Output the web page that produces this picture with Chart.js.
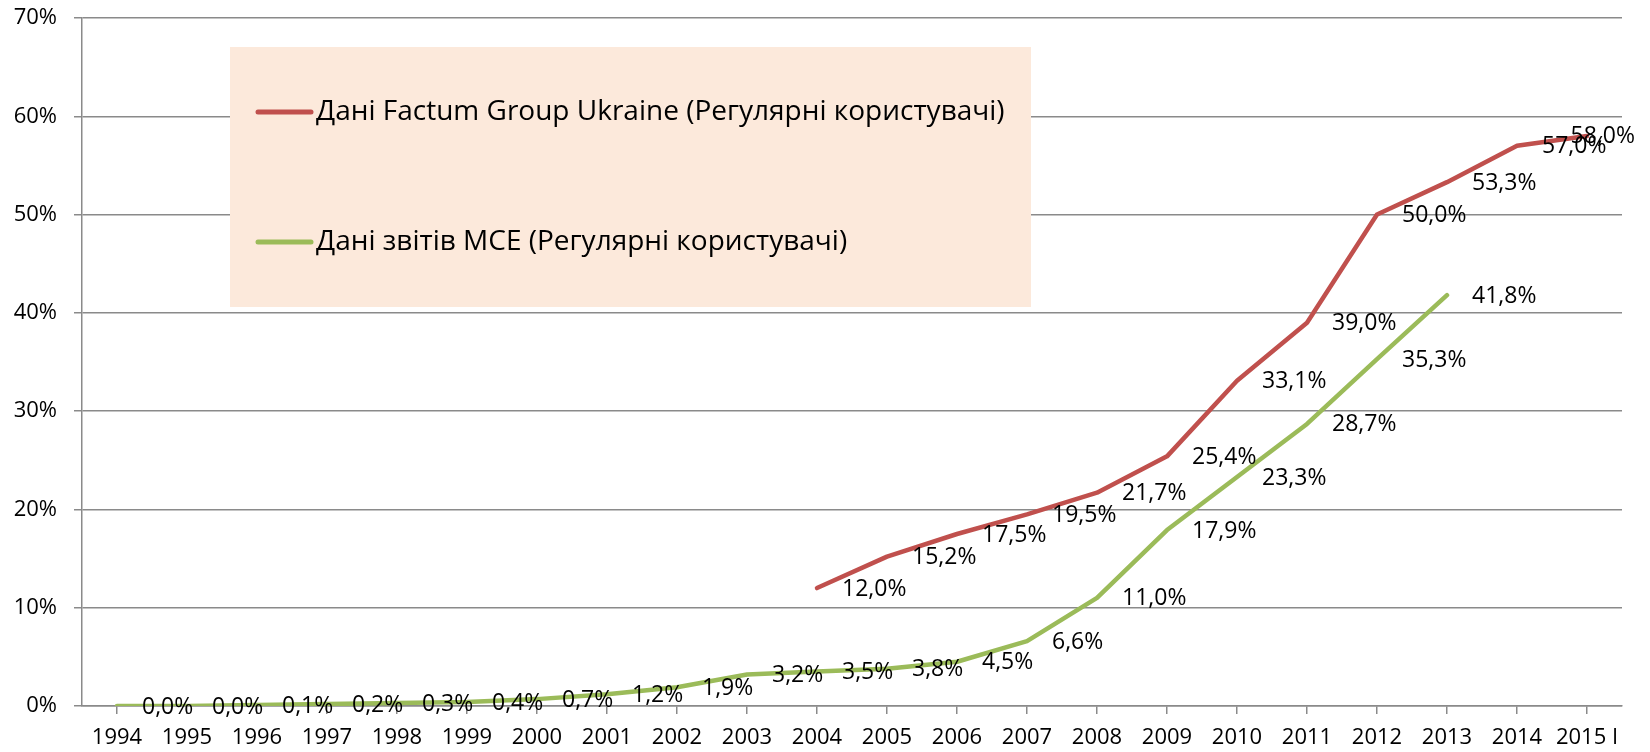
<!DOCTYPE html>
<html>
<head>
<meta charset="utf-8">
<script src="https://cdn.jsdelivr.net/npm/chart.js@4.4.0/dist/chart.umd.min.js"></script>
<style>
  html, body { margin: 0; padding: 0; background: #fff; }
  #chart { display: block; }
</style>
</head>
<body>
<canvas id="chart" width="1650" height="752"></canvas>
<script>
// Categories (years)
const years = ['1994', '1995', '1996', '1997', '1998', '1999', '2000', '2001', '2002', '2003',
    '2004', '2005', '2006', '2007', '2008', '2009', '2010', '2011', '2012', '2013', '2014', '2015 I'];

// Series values, %
const factumValues = [null, null, null, null, null, null, null, null, null, null,
    12.0, 15.2, 17.5, 19.5, 21.7, 25.4, 33.1, 39.0, 50.0, 53.3, 57.0, 58.0];
const mceValues = [0.0, 0.0, 0.1, 0.2, 0.3, 0.4, 0.7, 1.2, 1.9, 3.2,
    3.5, 3.8, 4.5, 6.6, 11.0, 17.9, 23.3, 28.7, 35.3, 41.8, null, null];

const seriesNames = [
    'Дані Factum Group Ukraine (Регулярні користувачі)',
    'Дані звітів MCE (Регулярні користувачі)'
];

// Y axis ticks
const yMin = 0;
const yMax = 70;
const yStep = 10;

const FONT = '"Open Sans", "Noto Sans", sans-serif';
const GRID = '#8a8a8a';

// Value labels to the right of each point
const valueLabels = {
    id: 'valueLabels',
    afterDatasetsDraw(chart) {
        const ctx = chart.ctx;
        ctx.save();
        ctx.font = '23px ' + FONT;
        ctx.fillStyle = '#000';
        ctx.textBaseline = 'middle';
        ctx.textAlign = 'left';
        chart.data.datasets.forEach((ds, i) => {
            const meta = chart.getDatasetMeta(i);
            meta.data.forEach((pt, j) => {
                const v = ds.data[j];
                if (v === null) return;
                const text = v.toFixed(1).replace('.', ',') + '%';
                const w = ctx.measureText(text).width;
                let x = pt.x + 25;
                if (x + w > chart.width - 15) x = chart.width - 15 - w;
                ctx.fillText(text, x, pt.y + 1);
            });
        });
        ctx.restore();
    }
};

// Legend box inside the plot area
const boxLegend = {
    id: 'boxLegend',
    beforeDatasetsDraw(chart) {
        const ctx = chart.ctx;
        const a = chart.chartArea;
        const left = a.left + 148, top = a.top + 29;
        ctx.save();
        ctx.fillStyle = '#fce9db';
        ctx.fillRect(left, top, 801, 260);
        ctx.font = '28px ' + FONT;
        ctx.textBaseline = 'middle';
        ctx.lineCap = 'round';
        chart.data.datasets.forEach((ds, i) => {
            const y = top + 65 + i * 130;
            ctx.strokeStyle = ds.borderColor;
            ctx.lineWidth = 5;
            ctx.beginPath();
            ctx.moveTo(left + 28, y);
            ctx.lineTo(left + 81, y);
            ctx.stroke();
            ctx.fillStyle = '#000';
            ctx.fillText(ds.label, left + 86, y);
        });
        ctx.restore();
    }
};

const chart = new Chart(document.getElementById('chart'), {
    type: 'line',
    data: {
        labels: years,
        datasets: [{
            label: seriesNames[0],
            data: factumValues,
            borderColor: '#c0504d',
            borderWidth: 4.5,
            pointRadius: 0,
            borderJoinStyle: 'round',
            borderCapStyle: 'round',
            tension: 0
        }, {
            label: seriesNames[1],
            data: mceValues,
            borderColor: '#9bbb59',
            borderWidth: 4.5,
            pointRadius: 0,
            borderJoinStyle: 'round',
            borderCapStyle: 'round',
            tension: 0
        }]
    },
    options: {
        responsive: false,
        animation: false,
        layout: { padding: { top: 18, right: 28, left: 0, bottom: 0 } },
        plugins: {
            legend: { display: false },
            tooltip: { enabled: false }
        },
        scales: {
            x: {
                offset: true,
                afterFit: s => { s.height = 46; s.paddingLeft = 0; s.paddingRight = 0; },
                grid: { drawOnChartArea: false, drawTicks: true, tickLength: 8, color: GRID, lineWidth: 1.5 },
                border: { color: GRID, width: 1.5 },
                ticks: { color: '#000', font: { family: FONT, size: 22 }, padding: 11, maxRotation: 0, autoSkip: false }
            },
            y: {
                min: yMin,
                max: yMax,
                afterFit: s => { s.width = 82; s.paddingTop = 0; s.paddingBottom = 0; },
                grid: { color: GRID, lineWidth: 1.5, tickLength: 8 },
                border: { color: GRID, width: 1.5 },
                ticks: {
                    stepSize: yStep,
                    color: '#000',
                    font: { family: FONT, size: 22 },
                    padding: 17,
                    callback: v => v + '%'
                }
            }
        }
    },
    plugins: [boxLegend, valueLabels]
});
</script>
</body>
</html>
